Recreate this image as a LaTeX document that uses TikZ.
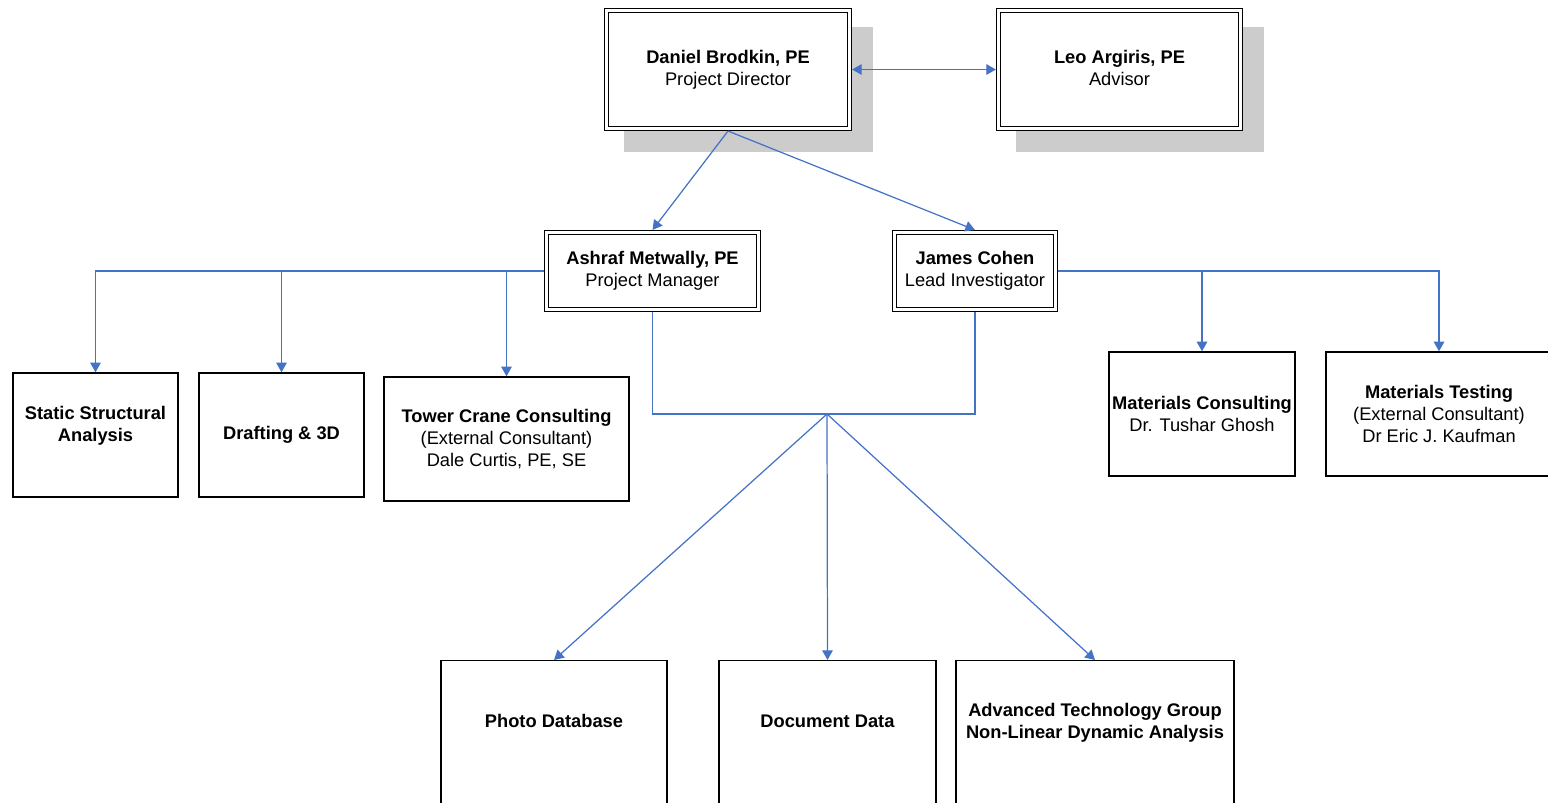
\documentclass[tikz,border=0pt]{standalone}
\usepackage{fontspec}
\setmainfont{Liberation Sans}
\usepackage{tikz}
\usetikzlibrary{arrows.meta,backgrounds,calc}
\definecolor{bleuLien}{RGB}{68,114,196}
\definecolor{grisOmbre}{RGB}{204,204,204}

\begin{document}
\begin{tikzpicture}[x=0.2mm, y=-0.2mm, font=\fontsize{10.4pt}{12.5pt}\selectfont,
  chef/.style={draw, double, line width=0.75pt, double distance=1.4pt, fill=white,
               align=center, inner sep=0pt, outer sep=1.45pt},
  equipe/.style={draw, line width=0.8pt, fill=white, align=center, inner sep=0pt},
  lien/.style={bleuLien, line width=0.7pt},
  fleche/.style={lien, -{Triangle[length=5.5pt, width=6pt]}},
  doubleFleche/.style={lien, {Triangle[length=5.5pt, width=6pt]}-{Triangle[length=5.5pt, width=6pt]}}]

\useasboundingbox (0,0) rectangle (1548,802);

% direction
\node[chef, minimum width=48.6mm, minimum height=23.6mm] (dir) at (728,69.5)
  {\textbf{Daniel Brodkin, PE}\\Project Director};
\node[chef, minimum width=48.4mm, minimum height=23.6mm] (adv) at (1119.5,69.5)
  {\textbf{Leo Argiris, PE}\\Advisor\vphantom{j}};

\begin{scope}[on background layer]
\foreach \n in {dir,adv}
  \fill[grisOmbre] ($(\n.north west)+(20,19)$) rectangle ($(\n.south east)+(21,21)$);
\end{scope}

% responsables
\node[chef, minimum width=42.4mm, minimum height=15.4mm] (pm) at (652.5,271)
  {\textbf{Ashraf Metwally, PE}\\Project Manager};
\node[chef, minimum width=32.2mm, minimum height=15.4mm] (li) at (975,271)
  {\textbf{James Cohen}\\Lead Investigator};

% equipes
\node[equipe, minimum width=33mm, minimum height=24.8mm] (ssa) at (95.5,435)
  {\textbf{Static Structural}\\\textbf{Analysis}\\\mbox{}};
\node[equipe, minimum width=33mm, minimum height=24.8mm] (dr) at (281.5,435)
  {\textbf{Drafting \& 3D}};
\node[equipe, minimum width=49mm, minimum height=24.8mm] (tc) at (506.5,439)
  {\textbf{Tower Crane Consulting}\\(External Consultant)\\Dale Curtis, PE, SE};
\node[equipe, minimum width=37.2mm, minimum height=24.8mm] (mc) at (1202,414)
  {\textbf{Materials Consulting}\\Dr. Tushar Ghosh};
\node[equipe, minimum width=45.2mm, minimum height=24.8mm] (mt) at (1439,414)
  {\textbf{Materials Testing}\\(External Consultant)\\Dr Eric J. Kaufman};

% donnees (boites coupees en bas)
\node[equipe, anchor=north, minimum width=45.2mm, minimum height=40mm] (photo) at (554,660) {};
\node[equipe, anchor=north, minimum width=43.4mm, minimum height=40mm] (doc) at (827.5,660) {};
\node[equipe, anchor=north, minimum width=55.6mm, minimum height=40mm] (atg) at (1095,660) {};
\node[align=center] (photoTxt) at ($(photo.north)+(0,61)$) {\textbf{Photo Database}};
\node[align=center] (docTxt) at ($(doc.north)+(0,61)$) {\textbf{Document Data}};
\node[align=center] (atgTxt) at ($(atg.north)+(0,63)$)
  {\textbf{Advanced Technology Group}\\\textbf{Non-Linear Dynamic Analysis}};

% liens
\draw[doubleFleche] (dir.east) -- (adv.west);
\draw[fleche] (dir.south) -- (pm.north);
\draw[fleche] (dir.south) -- (li.north);
\foreach \n in {ssa,dr,tc}
  \draw[fleche] (pm.west) -| (\n.north);
\foreach \n in {mc,mt}
  \draw[fleche] (li.east) -| (\n.north);

\coordinate (hub) at (827,414);
\draw[lien] (pm.south) |- (hub) -| (li.south);
\foreach \n in {photo,doc,atg}
  \draw[fleche] (hub) -- (\n.north);

\end{tikzpicture}
\end{document}
